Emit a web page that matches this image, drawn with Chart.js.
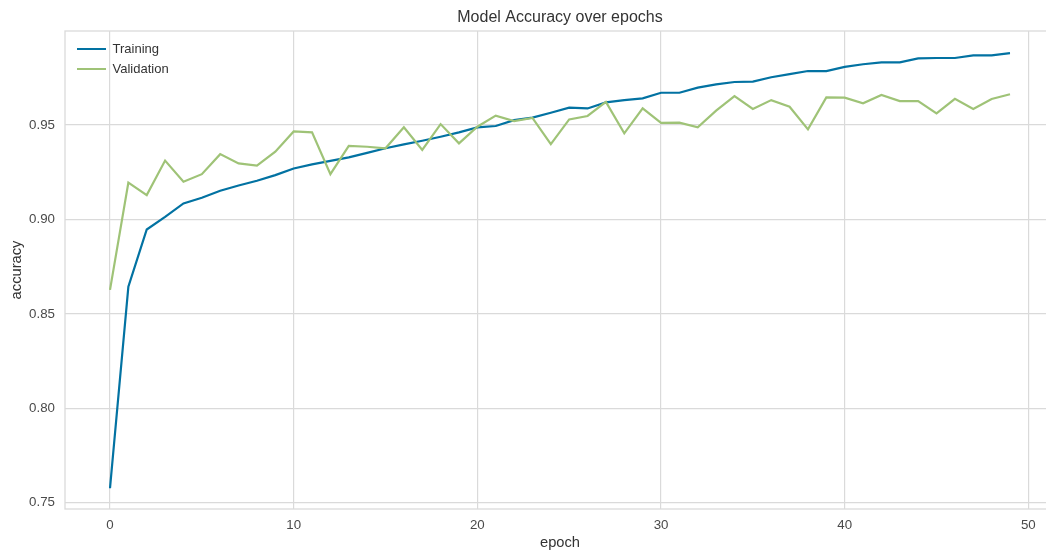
<!DOCTYPE html>
<html>
<head>
<meta charset="utf-8">
<title>Model Accuracy over epochs</title>
<script src="https://cdn.jsdelivr.net/npm/chart.js@4.4.1/dist/chart.umd.min.js"></script>
<style>
  html, body { margin: 0; padding: 0; background: #fff; overflow: hidden; }
  #wrap { width: 1058px; height: 552px; }
</style>
</head>
<body>
<div id="wrap"><canvas id="acc-chart" width="1058" height="552"></canvas></div>
<script>
// ── Data ──────────────────────────────────────────────────────────────
const epochs = [0, 1, 2, 3, 4, 5, 6, 7, 8, 9, 10, 11, 12, 13, 14, 15, 16, 17, 18, 19,
  20, 21, 22, 23, 24, 25, 26, 27, 28, 29, 30, 31, 32, 33, 34, 35, 36, 37, 38, 39,
  40, 41, 42, 43, 44, 45, 46, 47, 48, 49];

const trainAcc = [0.7577, 0.8644, 0.8947, 0.9014, 0.9085, 0.9115, 0.9152, 0.9180, 0.9205, 0.9235,
  0.9270, 0.9292, 0.9310, 0.9329, 0.9353, 0.9377, 0.9398, 0.9417, 0.9438, 0.9461,
  0.9488, 0.9495, 0.9526, 0.9539, 0.9565, 0.9592, 0.9588, 0.9620, 0.9632, 0.9641,
  0.9671, 0.9671, 0.9698, 0.9715, 0.9728, 0.9730, 0.9753, 0.9770, 0.9786, 0.9786,
  0.9808, 0.9822, 0.9832, 0.9832, 0.9853, 0.9855, 0.9855, 0.9869, 0.9869, 0.9881];

const valAcc = [0.8627, 0.9195, 0.9129, 0.9312, 0.9200, 0.9240, 0.9346, 0.9297, 0.9285, 0.9359,
  0.9466, 0.9461, 0.9240, 0.9390, 0.9385, 0.9377, 0.9488, 0.9368, 0.9505, 0.9403,
  0.9491, 0.9550, 0.9521, 0.9538, 0.9399, 0.9530, 0.9548, 0.9623, 0.9456, 0.9588,
  0.9512, 0.9513, 0.9488, 0.9576, 0.9653, 0.9585, 0.9632, 0.9597, 0.9477, 0.9646,
  0.9645, 0.9615, 0.9659, 0.9627, 0.9627, 0.9562, 0.9639, 0.9585, 0.9638, 0.9663];

const xTicks = [0, 10, 20, 30, 40, 50];
const yTicks = [0.75, 0.80, 0.85, 0.90, 0.95];

// ── Style ─────────────────────────────────────────────────────────────
const COLORS = {
  train: '#0272a2',
  val:   '#9fc377',
  grid:  '#dadada',
  text:  '#4a4a4a',
  title: '#333333',
};
const FONT = '"Liberation Sans", Arial, Helvetica, sans-serif';

const toPoints = (ys) => epochs.map((e, i) => ({ x: e, y: ys[i] }));

// plot frame (matplotlib-style spines on all sides)
const framePlugin = {
  id: 'frame',
  afterDraw(chart) {
    const { ctx, chartArea: a } = chart;
    ctx.save();
    ctx.strokeStyle = COLORS.grid;
    ctx.lineWidth = 1.3;
    ctx.strokeRect(a.left, a.top, a.right - a.left, a.bottom - a.top);
    ctx.restore();
  },
};

// put the legend inside the axes, upper-left corner
const legendNudge = {
  id: 'legendNudge',
  afterLayout(chart) {
    const lg = chart.legend;
    if (!lg) return;
    const h = lg.bottom - lg.top;
    lg.left = chart.chartArea.left + 5;
    lg.top = chart.chartArea.top + 4.5;
    lg.bottom = lg.top + h;
  },
};

new Chart(document.getElementById('acc-chart').getContext('2d'), {
  type: 'line',
  data: {
    datasets: [
      {
        label: 'Training',
        data: toPoints(trainAcc),
        borderColor: COLORS.train,
        backgroundColor: COLORS.train,
        borderWidth: 2.2,
        pointRadius: 0,
        tension: 0,
        order: 1,
      },
      {
        label: 'Validation',
        data: toPoints(valAcc),
        borderColor: COLORS.val,
        backgroundColor: COLORS.val,
        borderWidth: 2.2,
        pointRadius: 0,
        tension: 0,
        order: 0,
      },
    ],
  },
  options: {
    responsive: false,
    animation: false,
    layout: { padding: { left: 0, right: 3, top: 0, bottom: 0 } },
    plugins: {
      title: {
        display: true,
        text: 'Model Accuracy over epochs',
        fullSize: false,
        color: COLORS.title,
        font: { family: FONT, size: 16, weight: 'normal', lineHeight: 1.2 },
        padding: { top: 7.5, bottom: 4.3 },
      },
      legend: {
        position: 'chartArea',
        align: 'start',
        labels: {
          usePointStyle: true,
          pointStyle: 'line',
          pointStyleWidth: 29,
          color: COLORS.title,
          padding: 7,
          font: { family: FONT, size: 13 },
          sort: (a, b) => a.datasetIndex - b.datasetIndex,
        },
      },
      tooltip: { enabled: false },
    },
    scales: {
      x: {
        type: 'linear',
        min: -2.45,
        max: 51.45,
        afterFit: (s) => { s.height = 43; },
        afterBuildTicks: (s) => { s.ticks = xTicks.map(v => ({ value: v })); },
        grid: { color: COLORS.grid, lineWidth: 1.2, drawTicks: false },
        border: { display: false },
        ticks: {
          color: COLORS.text,
          padding: 8,
          maxRotation: 0,
          font: { family: FONT, size: 13.3 },
          callback: v => String(v),
        },
        title: {
          display: true,
          text: 'epoch',
          color: COLORS.title,
          font: { family: FONT, size: 14.7 },
          padding: { top: 0, bottom: 0 },
        },
      },
      y: {
        type: 'linear',
        min: 0.7467,
        max: 0.9998,
        afterFit: (s) => { s.width = 65; },
        afterBuildTicks: (s) => { s.ticks = yTicks.map(v => ({ value: v })); },
        grid: { color: COLORS.grid, lineWidth: 1.2, drawTicks: false },
        border: { display: false },
        ticks: {
          color: COLORS.text,
          padding: 10,
          font: { family: FONT, size: 13.3 },
          callback: v => v.toFixed(2),
        },
        title: {
          display: true,
          text: 'accuracy',
          color: COLORS.title,
          font: { family: FONT, size: 14.7 },
          padding: { top: 8.5, bottom: 0 },
        },
      },
    },
  },
  plugins: [framePlugin, legendNudge],
});
</script>
</body>
</html>
